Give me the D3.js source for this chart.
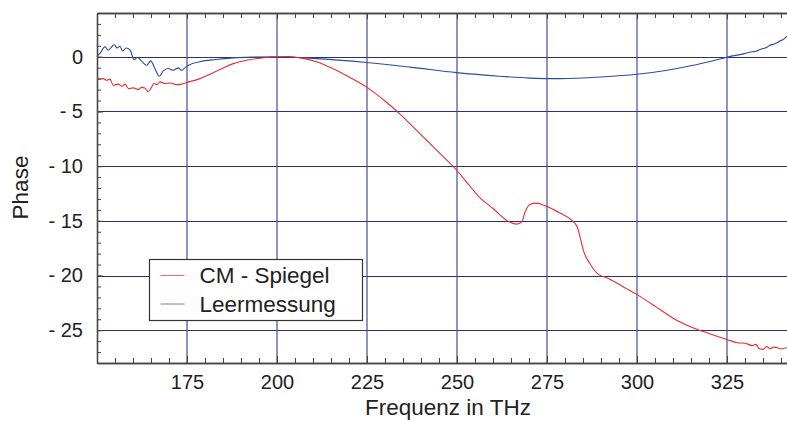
<!DOCTYPE html>
<html>
<head>
<meta charset="utf-8">
<script src="https://cdn.jsdelivr.net/npm/d3@7"></script>
<style>
  body { margin: 0; background: #fff; }
  text { font-family: "Liberation Sans", Arial, sans-serif; fill: #222; }
</style>
</head>
<body>
<div id="chart"></div>
<script>
// frequency (THz) and phase values
var cmFreq = [150, 151.8, 152.7, 153.6, 154.5, 155.9, 156.9, 157.8, 158.7, 160.1, 161.5, 162.4, 163.3, 164.2,
  165.2, 165.8, 166.6, 167.5, 168.9, 170.3, 172.1, 173.5, 175, 178.6, 183, 187.9, 192, 197, 200, 203, 206.4,
  211, 215.6, 220, 225, 230, 235, 239, 243, 247, 250, 253, 256.4, 260.1, 263.8, 266.6, 268, 268.9, 270.3,
  271.9, 274.9, 278.6, 281.9, 283.4, 284.2, 285.1, 286.9, 289.3, 291.6, 297.1, 300, 305, 310, 315, 320, 325,
  328, 330, 332, 333, 334, 335, 336, 337, 338, 339, 340, 341.7];
var cmPhase = [-2.05, -2.0, -2.15, -2.05, -2.6, -2.5, -2.7, -2.5, -2.9, -2.85, -3.0, -2.8, -2.85, -3.2,
  -2.75, -2.45, -2.55, -2.3, -2.45, -2.4, -2.55, -2.5, -2.35, -2.0, -1.35, -0.63, -0.3, -0.07, 0, 0.02, -0.1,
  -0.45, -1.1, -1.85, -2.8, -4.05, -5.5, -6.8, -8.1, -9.4, -10.4, -11.6, -12.9, -13.9, -14.96, -15.3, -15.1, -14.2, -13.5,
  -13.38, -13.68, -14.29, -14.96, -15.57, -16.5, -17.7, -18.9, -19.9, -20.2, -21.2, -21.75, -22.8, -23.9, -24.7, -25.3, -25.85,
  -26.15, -26.2, -26.4, -26.3, -26.7, -26.75, -26.5, -26.7, -26.55, -26.6, -26.7, -26.6];

var leerFreq = [150, 150.8, 152.2, 153.1, 154.8, 155.6, 156.4, 157.1, 158.1, 159.2, 160.3, 161.2, 162.4, 163.8,
  164.9, 166.1, 167.3, 168.4, 169.8, 171.2, 172.6, 173.5, 174.4, 175.4, 178.6, 183, 187.9, 193, 200, 210,
  224.9, 237, 249.9, 261.9, 270, 278.6, 290, 300, 308, 315.6, 320, 324.7, 327, 329, 330.5, 332, 333, 334.2,
  335, 336, 336.9, 338, 339, 339.7, 340.5, 341.7];
var leerPhase = [0.05, 0.3, 0.9, 0.6, 1.1, 0.8, 0.96, 0.53, 0.8, 0.6, -0.26, -0.07, -0.4, -0.78,
  -0.38, -1.08, -1.78, -1.3, -1.08, -1.23, -1.02, -1.23, -1.02, -0.78, -0.45, -0.25, -0.1, -0.03, 0, -0.15,
  -0.53, -0.95, -1.45, -1.78, -1.95, -2.0, -1.85, -1.6, -1.25, -0.78, -0.45, -0.07, 0.1, 0.22, 0.35, 0.45, 0.5, 0.66,
  0.75, 0.85, 1.05, 1.15, 1.3, 1.45, 1.55, 1.88];

var xMajor = [175, 200, 225, 250, 275, 300, 325];
var yMajor = [0, -5, -10, -15, -20, -25];
var seriesNames = ["CM - Spiegel", "Leermessung"];
var seriesColors = ["#ee2b30", "#2d4c9e"];

var W = 787, H = 421;
var margin = { top: 13, right: 0, bottom: 58, left: 97 },
  width = W - margin.left - margin.right,
  height = H - margin.top - margin.bottom;

var x = d3.scaleLinear().domain([150, 341.67]).range([0, width]);
var y = d3.scaleLinear().domain([-28, 4]).range([height, 0]);

var svg = d3.select("#chart").append("svg")
  .attr("width", W).attr("height", H)
  .append("g")
  .attr("transform", "translate(" + margin.left + "," + margin.top + ")");

svg.append("clipPath").attr("id", "clip")
  .append("rect").attr("width", width).attr("height", height);

// grid
svg.selectAll(".hgrid").data(yMajor).enter().append("line")
  .attr("x1", 0).attr("x2", width)
  .attr("y1", function(d) { return Math.round(y(d)) + 0.5; })
  .attr("y2", function(d) { return Math.round(y(d)) + 0.5; })
  .style("stroke", "#2b2e7c").style("stroke-width", 1.2);
svg.selectAll(".vgrid").data(xMajor).enter().append("line")
  .attr("y1", 0).attr("y2", height)
  .attr("x1", function(d) { return x(d); })
  .attr("x2", function(d) { return x(d); })
  .style("stroke", "#4a4e92").style("stroke-width", 1.6).style("opacity", 0.75);

// lines
function makeLine(fr, ph) {
  var pts = fr.map(function(f, i) { return [f, ph[i]]; });
  return d3.line()
    .x(function(d) { return x(d[0]); })
    .y(function(d) { return y(d[1]); })
    .curve(d3.curveMonotoneX)(pts);
}
var g = svg.append("g").attr("clip-path", "url(#clip)");
g.append("path").attr("d", makeLine(leerFreq, leerPhase))
  .style("fill", "none").style("stroke", seriesColors[1]).style("stroke-width", 1.1);
g.append("path").attr("d", makeLine(cmFreq, cmPhase))
  .style("fill", "none").style("stroke", seriesColors[0]).style("stroke-width", 1.1);

// axes (ticks inside)
var xMinor = d3.range(150, 342, 5);
var yMinor = d3.range(-28, 5, 1);
function styleAxis(sel) {
  sel.select(".domain").style("stroke", "#444").style("stroke-width", 1.3);
  sel.selectAll(".tick line").style("stroke", "#444");
}
svg.append("g").attr("transform", "translate(0," + height + ")")
  .call(d3.axisBottom(x).tickValues(xMinor).tickSizeInner(-5).tickSizeOuter(0).tickFormat(""))
  .call(styleAxis);
svg.append("g").attr("transform", "translate(0," + height + ")")
  .call(d3.axisBottom(x).tickValues(xMajor).tickSizeInner(-7).tickSizeOuter(0).tickPadding(12).tickFormat(d3.format("d")))
  .call(styleAxis)
  .selectAll("text").style("font-size", "20px").style("fill", "#222");
svg.append("g")
  .call(d3.axisTop(x).tickValues(xMinor).tickSizeInner(-5).tickSizeOuter(0).tickFormat(""))
  .call(styleAxis);
svg.append("g")
  .call(d3.axisTop(x).tickValues(xMajor).tickSizeInner(-6).tickSizeOuter(0).tickFormat(""))
  .call(styleAxis);
svg.append("g")
  .call(d3.axisLeft(y).tickValues(yMinor).tickSizeInner(-4).tickSizeOuter(0).tickFormat(""))
  .call(styleAxis);
svg.append("g")
  .call(d3.axisLeft(y).tickValues(yMajor).tickSizeInner(-6).tickSizeOuter(0).tickPadding(14)
    .tickFormat(function(d) { return d < 0 ? "- " + (-d) : d; }))
  .call(styleAxis)
  .selectAll("text").style("font-size", "20px").style("fill", "#222");

// axis titles
svg.append("text")
  .attr("x", 448 - margin.left).attr("y", 415 - margin.top)
  .style("text-anchor", "middle").style("font-size", "22.5px")
  .text("Frequenz in THz");
svg.append("text")
  .attr("transform", "translate(" + (28 - margin.left) + "," + (187.5 - margin.top) + ") rotate(-90)")
  .style("text-anchor", "middle").style("font-size", "22.5px")
  .text("Phase");

// legend
var leg = svg.append("g").attr("transform", "translate(" + (149.5 - margin.left) + "," + (259.5 - margin.top) + ")");
leg.append("rect").attr("width", 213).attr("height", 61)
  .style("fill", "#fff").style("stroke", "#333").style("stroke-width", 1.2);
seriesNames.forEach(function(name, i) {
  var yy = 16 + i * 28.5;
  leg.append("line").attr("x1", 11).attr("x2", 35).attr("y1", yy).attr("y2", yy)
    .style("stroke", seriesColors[i]).style("stroke-width", 1).style("opacity", 0.7);
  leg.append("text").attr("x", 50).attr("y", yy + 7.5)
    .style("font-size", "22.5px").text(name);
});
</script>
</body>
</html>
